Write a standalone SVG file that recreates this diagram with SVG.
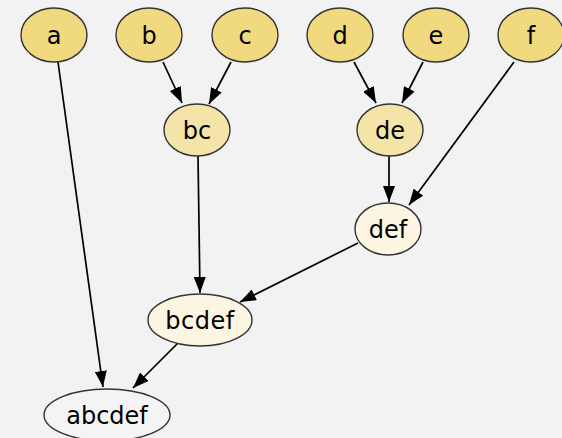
<svg xmlns="http://www.w3.org/2000/svg" width="562" height="438" viewBox="0 0 562 438">
<style>
.n ellipse{stroke:#333;stroke-width:1.4}
.l1{fill:#f0d97e}
.l2{fill:#f5e4a8}
.l3{fill:#fcf5e2}
.l4{fill:#f4f4f4}
text{font-family:"DejaVu Sans",sans-serif;font-size:24px;fill:#000;text-anchor:middle}
.e line{stroke:#000;stroke-width:1.7;marker-end:url(#ah)}
</style>
<defs>
<marker id="ah" viewBox="0 0 16 12" refX="16" refY="6" markerWidth="16" markerHeight="12" markerUnits="userSpaceOnUse" orient="auto">
<path d="M0,0 L16,6 L0,12 Z" fill="#000"/>
</marker>
</defs>
<rect width="562" height="438" fill="#f2f2f2"/>
<g class="e" id="edges">
<line x1="58" y1="62" x2="103" y2="387"/>
<line x1="163" y1="62" x2="182" y2="103"/>
<line x1="231" y1="62" x2="209" y2="104"/>
<line x1="354" y1="62" x2="376" y2="103"/>
<line x1="423" y1="62" x2="402" y2="103"/>
<line x1="514" y1="62" x2="409" y2="205"/>
<line x1="389" y1="156" x2="389" y2="202"/>
<line x1="198" y1="156" x2="200" y2="293"/>
<line x1="358" y1="243" x2="240" y2="302"/>
<line x1="178" y1="343" x2="133" y2="388"/>
</g>
<g class="n" id="a"><ellipse class="l1" cx="54" cy="35" rx="33" ry="27"/><text x="54" y="44">a</text></g>
<g class="n" id="b"><ellipse class="l1" cx="149" cy="35" rx="33" ry="27"/><text x="149" y="44">b</text></g>
<g class="n" id="c"><ellipse class="l1" cx="245" cy="35" rx="33" ry="27"/><text x="245" y="44">c</text></g>
<g class="n" id="d"><ellipse class="l1" cx="340" cy="35" rx="33" ry="27"/><text x="340" y="44">d</text></g>
<g class="n" id="e"><ellipse class="l1" cx="436" cy="35" rx="33" ry="27"/><text x="436" y="44">e</text></g>
<g class="n" id="f"><ellipse class="l1" cx="531" cy="35" rx="33" ry="27"/><text x="531" y="44">f</text></g>
<g class="n" id="bc"><ellipse class="l2" cx="197" cy="130" rx="33" ry="26"/><text x="197" y="139">bc</text></g>
<g class="n" id="de"><ellipse class="l2" cx="390" cy="130" rx="33" ry="26"/><text x="390" y="139">de</text></g>
<g class="n" id="def"><ellipse class="l3" cx="388" cy="229" rx="33" ry="26"/><text x="388" y="238">def</text></g>
<g class="n" id="bcdef"><ellipse class="l3" cx="200" cy="320" rx="52" ry="26"/><text x="200" y="329" letter-spacing="0.5">bcdef</text></g>
<g class="n" id="abcdef"><ellipse class="l4" cx="107" cy="415" rx="63" ry="26"/><text x="107" y="424">abcdef</text></g>
</svg>
